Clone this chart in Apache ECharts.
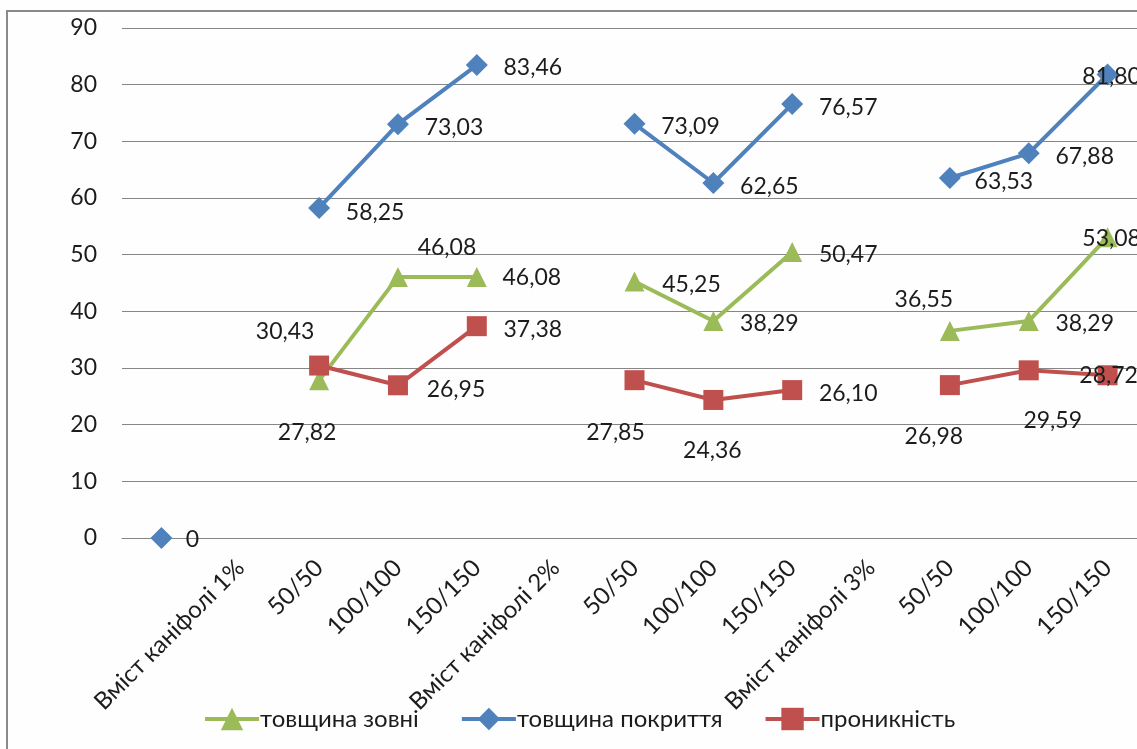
<!DOCTYPE html>
<html>
<head>
<meta charset="utf-8">
<script src="https://cdn.jsdelivr.net/npm/echarts@6/dist/echarts.min.js"></script>
<style>
  html, body { margin: 0; padding: 0; background: #fefefe; }
  #chart { width: 1137px; height: 749px; }
</style>
</head>
<body>
<div id="chart"></div>
<script>
// Categories along the x axis (first slot carries only the zero reference point)
const categories = ['', 'Вміст каніфолі 1%', '50/50', '100/100', '150/150',
  'Вміст каніфолі 2%', '50/50', '100/100', '150/150',
  'Вміст каніфолі 3%', '50/50', '100/100', '150/150'];

// Series values
const outerThickness = [null, null, 27.82, 46.08, 46.08, null, 45.25, 38.29, 50.47, null, 36.55, 38.29, 53.08];
const coatingThickness = [0, null, 58.25, 73.03, 83.46, null, 73.09, 62.65, 76.57, null, 63.53, 67.88, 81.80];
const penetration = [null, null, 30.43, 26.95, 37.38, null, 27.85, 24.36, 26.10, null, 26.98, 29.59, 28.72];

// Value axis ticks
const yMin = 0, yMax = 90, yStep = 10;

// Label offsets (label centre relative to the marker), per point
const R = [56, 3];
const outerLabelOffsets = [null, null, [-12, 52], [49, -29], [55, 1], null, [57, 3], R, R, null, [-26, -31], R, [4, 1]];
const coatingLabelOffsets = [[31, 2], null, [56, 5], R, R, null, R, [56, 4], R, null, [54, 4], R, [4, 2]];
const penetrationLabelOffsets = [null, null, [-34, -34], [58, 4], R, null, [-19, 52], [-1, 51], R, null, [-16, 51], [24, 50], [1, 0]];

const FONT = 'Lato, "Noto Sans", sans-serif';
const TEXT = '#1c1c1c';

function fmt(v) { return (v === 0 ? '0' : v.toFixed(2).replace('.', ',')); }

function buildData(values, offsets) {
  return values.map((v, i) => {
    if (v === null) return null;
    return {
      value: v,
      label: {
        show: true,
        position: 'inside',
        align: 'center',
        verticalAlign: 'middle',
        offset: offsets[i],
        formatter: () => fmt(v),
        color: TEXT,
        fontSize: 23,
        fontFamily: FONT
      }
    };
  });
}

function lineSeries(name, values, offsets, color, symbol, size) {
  return {
    name: name,
    type: 'line',
    data: buildData(values, offsets),
    connectNulls: false,
    symbol: symbol,
    symbolSize: size,
    showAllSymbol: true,
    lineStyle: { color: color, width: 4 },
    itemStyle: { color: color },
    emphasis: { disabled: true },
    animation: false
  };
}

const chart = echarts.init(document.getElementById('chart'));
chart.setOption({
  backgroundColor: '#fefefe',
  animation: false,
  grid: { left: 122, width: 1025, top: 28, bottom: 211, containLabel: false, outerBoundsMode: 'none' },
  graphic: [{
    type: 'rect',
    shape: { x: 7, y: 11, width: 1300, height: 900 },
    style: { fill: null, stroke: '#8a8a8a', lineWidth: 2 },
    silent: true
  }],
  xAxis: {
    type: 'category',
    data: categories,
    boundaryGap: true,
    axisLine: { show: true, lineStyle: { color: '#868686', width: 1 } },
    axisTick: { show: false },
    axisLabel: {
      interval: 0,
      rotate: 45,
      margin: 26,
      color: TEXT,
      fontSize: 24,
      fontFamily: FONT
    }
  },
  yAxis: {
    type: 'value',
    min: yMin,
    max: yMax,
    interval: yStep,
    axisLine: { show: false },
    axisTick: { show: false },
    splitLine: { lineStyle: { color: '#868686', width: 1 } },
    axisLabel: { margin: 25, color: TEXT, fontSize: 23, fontFamily: FONT }
  },
  legend: {
    left: 198,
    top: 702,
    itemWidth: 54,
    itemHeight: 28,
    itemGap: 41,
    lineStyle: { width: 4 },
    textStyle: { color: TEXT, fontSize: 24, fontFamily: FONT, padding: [0, 0, 0, -4] },
    data: ['товщина зовні', 'товщина покриття', 'проникність']
  },
  series: [
    lineSeries('товщина зовні', outerThickness, outerLabelOffsets, '#9BBB59', 'triangle', 20),
    lineSeries('товщина покриття', coatingThickness, coatingLabelOffsets, '#4F81BD', 'diamond', 22),
    lineSeries('проникність', penetration, penetrationLabelOffsets, '#C0504D', 'rect', 20)
  ]
});
</script>
</body>
</html>
